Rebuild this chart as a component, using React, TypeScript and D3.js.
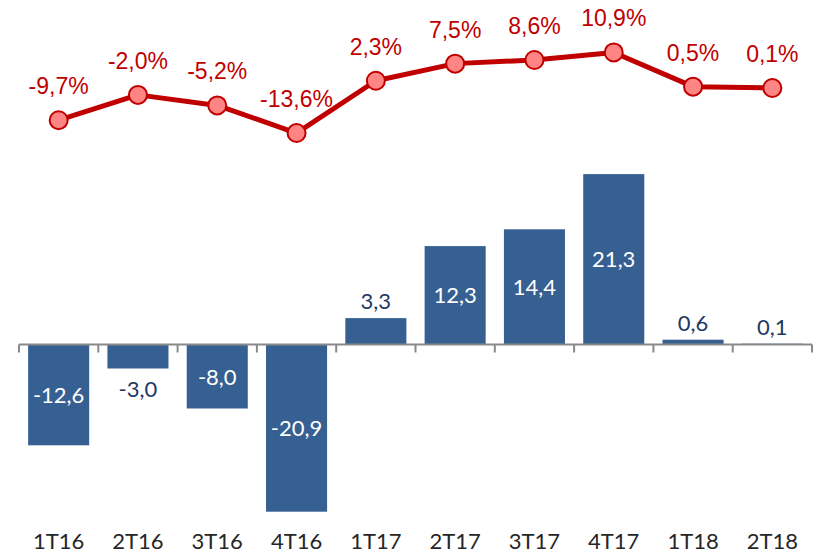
import React from 'react';
import * as d3 from 'd3';

const categories = ['1T16', '2T16', '3T16', '4T16', '1T17', '2T17', '3T17', '4T17', '1T18', '2T18'];
const barValues = [-12.6, -3.0, -8.0, -20.9, 3.3, 12.3, 14.4, 21.3, 0.6, 0.1];
const pctValues = [-9.7, -2.0, -5.2, -13.6, 2.3, 7.5, 8.6, 10.9, 0.5, 0.1];

const W = 821;
const H = 556;
const fmt = (v: number, d = 1) => v.toFixed(d).replace('.', ',');

export default function App() {
  // category axis
  const x = d3.scaleBand<string>().domain(categories).range([19, 812]).padding(0);
  const barW = x.step() * 0.77;
  const cx = (c: string) => (x(c) as number) + x.bandwidth() / 2;

  // bar scale: ~8 px per unit, zero at 344.5
  const y = d3.scaleLinear().domain([-25, 25]).range([544.5, 144.5]);
  // line scale: ~3.29 px per unit, zero at 88.3
  const yPct = d3.scaleLinear().domain([-20, 20]).range([154.1, 22.5]);

  const line = d3
    .line<number>()
    .x((_, i) => cx(categories[i]))
    .y(d => yPct(d));

  const zero = y(0);
  const ticks = d3.range(categories.length + 1).map(i => 19 + i * x.step());

  return (
    <svg
      width={W}
      height={H}
      style={{ position: 'absolute', left: 0, top: 0, background: '#fff' }}
    >
      {/* bars */}
      {barValues.map((v, i) => {
        const c = categories[i];
        const y0 = Math.min(y(v), zero);
        const h = Math.abs(y(v) - zero);
        return (
          <rect
            key={c}
            x={cx(c) - barW / 2}
            y={y0}
            width={barW}
            height={h}
            fill="#376092"
          />
        );
      })}

      {/* axis */}
      <line x1={19} x2={812} y1={zero} y2={zero} stroke="#898989" strokeWidth={2} />
      {ticks.map((t, i) => (
        <line key={i} x1={t} x2={t} y1={zero} y2={zero + 8} stroke="#898989" strokeWidth={2} />
      ))}

      {/* bar labels */}
      {barValues.map((v, i) => {
        const c = categories[i];
        const inside = Math.abs(v) > 5;
        let ty: number;
        if (inside) ty = (y(v) + zero) / 2 + 8;
        else if (v < 0) ty = y(v) + 28;
        else ty = y(v) - 9;
        return (
          <text
            key={c}
            x={cx(c)}
            y={ty}
            textAnchor="middle"
            fontFamily="Lato, 'Open Sans', sans-serif"
            fontSize={22}
            fill={inside ? '#ffffff' : '#1f3864'}
          >
            {fmt(v)}
          </text>
        );
      })}

      {/* category labels */}
      {categories.map(c => (
        <text
          key={c}
          x={cx(c)}
          y={549}
          textAnchor="middle"
          fontFamily="Lato, 'Open Sans', sans-serif"
          fontSize={22}
          fill="#262626"
        >
          {c}
        </text>
      ))}

      {/* line */}
      <path d={line(pctValues) ?? ''} fill="none" stroke="#c00000" strokeWidth={5} strokeLinejoin="round" />
      {pctValues.map((v, i) => (
        <circle
          key={i}
          cx={cx(categories[i])}
          cy={yPct(v)}
          r={9}
          fill="#ff8585"
          stroke="#c00000"
          strokeWidth={2}
        />
      ))}
      {pctValues.map((v, i) => (
        <text
          key={i}
          x={cx(categories[i])}
          y={yPct(v) - 26}
          textAnchor="middle"
          fontFamily="'Liberation Sans', Arial, sans-serif"
          fontSize={23}
          fill="#c00000"
        >
          {fmt(v)}%
        </text>
      ))}
    </svg>
  );
}
